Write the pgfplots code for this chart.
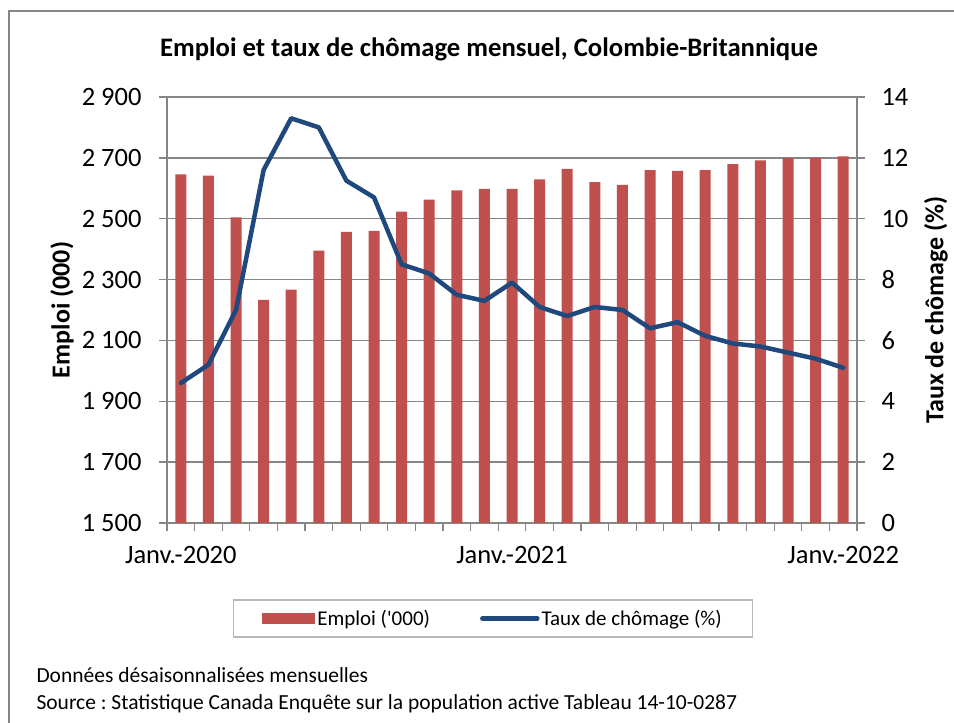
\documentclass[border=0pt]{standalone}
\usepackage{fontspec}
\setmainfont{Carlito}
\usepackage{pgfplots}
\usepackage{pgfplotstable}
\pgfplotsset{compat=1.18}
\frenchspacing
\definecolor{barred}{RGB}{192,80,77}
\definecolor{lineblue}{RGB}{31,73,125}
\definecolor{gridgray}{RGB}{134,134,134}
\newcommand{\tickfont}{\fontsize{26.5bp}{30bp}\selectfont}
\newcommand{\labfont}{\fontsize{26bp}{30bp}\selectfont\bfseries}
\newcommand{\titlefont}{\fontsize{26.7bp}{30bp}\selectfont\bfseries}
\newcommand{\legfont}{\fontsize{21bp}{25bp}\selectfont}
\newcommand{\footfont}{\fontsize{21.5bp}{25bp}\selectfont}

\pgfplotstableread{
x emploi taux
0 2646 4.6
1 2642 5.2
2 2504 7.0
3 2233 11.6
4 2267 13.3
5 2395 13.0
6 2457 11.25
7 2460 10.7
8 2523 8.5
9 2563 8.2
10 2593 7.5
11 2598 7.3
12 2598 7.9
13 2629 7.1
14 2664 6.8
15 2620 7.1
16 2611 7.0
17 2660 6.4
18 2657 6.6
19 2660 6.15
20 2679 5.9
21 2692 5.8
22 2700 5.6
23 2701 5.4
24 2705 5.1
}\datatable

\begin{document}
\begin{tikzpicture}
\useasboundingbox (0,0) rectangle (954bp,723bp);
\fill[white] (0,0) rectangle (954bp,723bp);
\draw[gridgray, line width=1.3bp] (9bp,0bp) -- (9bp,712bp) -- (954bp,712bp);
\node[font=\titlefont, anchor=base] at (489bp,666bp) {Emploi et taux de chômage mensuel, Colombie-Britannique};
\node[font=\footfont, anchor=base west] at (33bp,40bp) {Données désaisonnalisées mensuelles};
\node[font=\footfont, anchor=base west] at (33bp,14bp) {Source : Statistique Canada Enquête sur la population active Tableau 14-10-0287};

\begin{axis}[
  at={(167bp,200bp)}, anchor=south west,
  scale only axis, width=690bp, height=426bp,
  xmin=-0.5, xmax=24.5, ymin=1500, ymax=2900,
  ytick={1500,1700,...,2900},
  yticklabels={1 500,1 700,1 900,2 100,2 300,2 500,2 700,2 900},
  xtick={0,12,24}, xticklabels={Janv.-2020,Janv.-2021,Janv.-2022},
  minor xtick={-0.5,0.5,...,24.5},
  axis x line*=bottom, axis y line*=left,
  axis line style={gridgray, line width=1.3bp, -},
  every tick/.style={gridgray, line width=1.3bp},
  major x tick style={draw=none},
  major tick length=8bp, minor tick length=8bp,
  tick align=outside,
  ymajorgrids, grid style={gridgray, line width=1.3bp},
  ticklabel style={font=\tickfont, text=black},
  yticklabel style={xshift=-14bp},
  xticklabel style={yshift=-12bp},
  ylabel={Emploi (000)},
  ylabel style={font=\labfont, at={(axis description cs:-0.152,0.5)}, anchor=center},
  legend columns=2,
  legend style={at={(0.4725,-0.2242)}, anchor=center, draw=gray!55, line width=1.3bp,
    font=\legfont, inner xsep=28.5bp, inner ysep=8bp,
    /tikz/every even column/.append style={column sep=48bp}},
  legend cell align=left,
]
\addplot[ybar, bar width=11bp, fill=barred, draw=none,
  legend image code/.code={\fill[barred] (0bp,-5.5bp) rectangle (53bp,5.5bp);}]
  table[x=x, y=emploi] {\datatable};
\addlegendentry{Emploi (\textquotesingle 000)}
\addlegendimage{legend image code/.code={\draw[lineblue, line width=4.5bp, line cap=round] (0bp,0bp) -- (55bp,0bp);}}
\addlegendentry{Taux de chômage (\%)}
\end{axis}

\begin{axis}[
  at={(167bp,200bp)}, anchor=south west,
  scale only axis, width=690bp, height=426bp,
  xmin=-0.5, xmax=24.5, ymin=0, ymax=14,
  ytick={0,2,...,14},
  yticklabels={0,2,4,6,8,10,12,14},
  axis y line*=right, axis x line=none,
  axis line style={gridgray, line width=1.3bp, -},
  every tick/.style={gridgray, line width=1.3bp},
  major tick length=8bp, tick align=outside,
  ticklabel style={font=\tickfont, text=black},
  yticklabel style={xshift=13bp},
  ylabel={Taux de chômage (\%)},
  ylabel style={font=\labfont, at={(axis description cs:1.1145,0.5)}, anchor=center},
]
\addplot[lineblue, line width=4.5bp, line join=round, line cap=round, mark=none]
  table[x=x, y=taux] {\datatable};
\end{axis}
\end{tikzpicture}
\end{document}
